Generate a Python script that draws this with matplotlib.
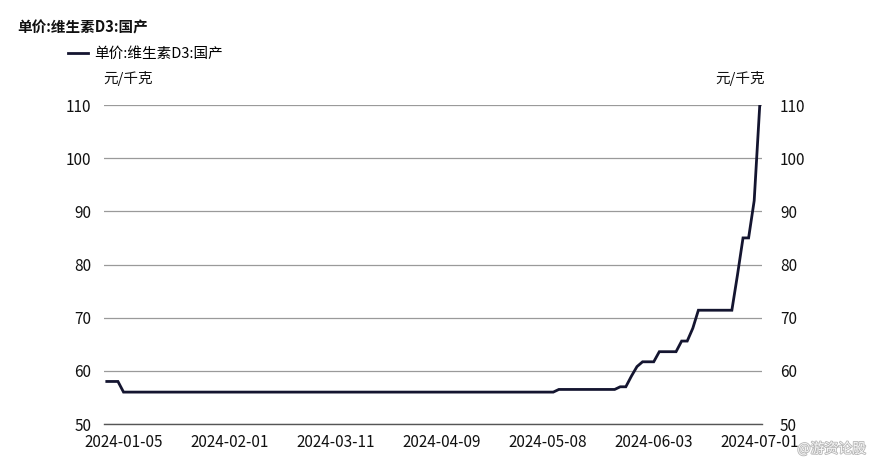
import matplotlib
matplotlib.use("Agg")
import matplotlib.pyplot as plt
import matplotlib.patheffects as pe

plt.rcParams['font.family'] = ['Noto Sans CJK SC', 'DejaVu Sans']

# ---- data (trading-day index, price in 元/千克), change points ----
day_idx = [0, 2, 3, 80, 81, 91, 92, 93, 94, 95, 96, 98, 99, 102, 103, 104, 105, 106, 112, 113, 114, 115, 116, 117]
price = [58, 58, 56, 56, 56.5, 56.5, 57, 57, 59, 60.8, 61.7, 61.7, 63.6, 63.6, 65.6, 65.6, 68, 71.4, 71.4, 78, 85, 85, 92, 110]

tick_idx = [3, 22, 41, 60, 79, 98, 117]
tick_labels = ['2024-01-05', '2024-02-01', '2024-03-11', '2024-04-09', '2024-05-08', '2024-06-03', '2024-07-01']
y_ticks = [50, 60, 70, 80, 90, 100, 110]

series_name = '单价:维生素D3:国产'
unit = '元/千克'

W, H = 870, 458
fig = plt.figure(figsize=(W / 100, H / 100), dpi=100)
ax = fig.add_axes([104 / W, 1 - 424 / H, (762 - 104) / W, (424 - 105) / H])

line, = ax.plot(day_idx, price, color='#141530', lw=2.0, solid_joinstyle='miter', label=series_name, zorder=3)

ax.set_xlim(-0.5, 117.4)
ax.set_ylim(50, 110)
ax.set_yticks(y_ticks)
ax.set_xticks(tick_idx)
ax.set_xticklabels(tick_labels)
ax.grid(axis='y', color='#9a9a9a', lw=0.9)
ax.grid(axis='x', visible=False)
for s in ['top', 'left', 'right']:
    ax.spines[s].set_visible(False)
ax.spines['bottom'].set_color('#555555')
ax.spines['bottom'].set_linewidth(1.0)
ax.tick_params(axis='both', length=0, labelsize=11, colors='#111111')
ax.tick_params(axis='y', pad=9)
ax.tick_params(axis='x', pad=7)

ax2 = ax.twinx()
ax2.set_ylim(50, 110)
ax2.set_yticks(y_ticks)
for s in ['top', 'left', 'right', 'bottom']:
    ax2.spines[s].set_visible(False)
ax2.tick_params(axis='y', length=0, labelsize=11, pad=13, colors='#111111')

fig.text(17 / W, 1 - 27 / H, series_name, fontsize=10.5, fontweight='bold', ha='left', va='center', color='#111111')
fig.legend(handles=[line], loc='center left', bbox_to_anchor=(68 / W, 1 - 54 / H), frameon=False,
           handlelength=1.4, handletextpad=0.4, fontsize=10.5, borderaxespad=0, borderpad=0)
fig.text(103 / W, 1 - 79 / H, unit, fontsize=10.5, ha='left', va='center', color='#111111')
fig.text(765 / W, 1 - 79 / H, unit, fontsize=10.5, ha='right', va='center', color='#111111')

# watermark (kept clear of the tick labels)
fig.text(866 / W, 1 - 449 / H, '@游资论股', fontsize=10, ha='right', va='center', color='white',
         alpha=0.9, path_effects=[pe.withStroke(linewidth=1.2, foreground='#b0b0b0')])

fig.savefig('out.png', dpi=100, facecolor='white')
